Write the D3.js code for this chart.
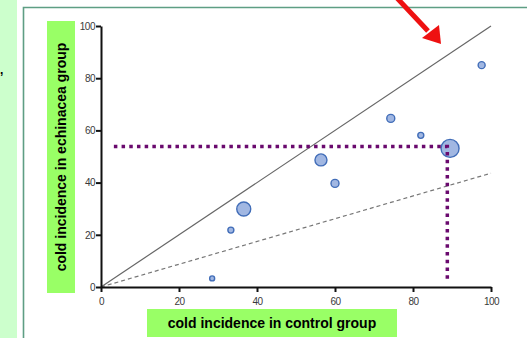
<!DOCTYPE html>
<html><head><meta charset="utf-8">
<script src="https://cdn.jsdelivr.net/npm/d3@7/dist/d3.min.js"></script>
<style>html,body{margin:0;padding:0;background:#fff;overflow:hidden}svg{display:block}</style>
</head><body>
<svg id="c" width="527" height="338"></svg>
<script>
const xTicks = [0, 20, 40, 60, 80, 100];
const yTicks = [0, 20, 40, 60, 80, 100];
const control   = [28.5, 33.3, 36.6, 56.4, 60.0, 74.3, 82.0, 89.5, 97.6];
const echinacea = [3.3, 21.8, 29.9, 48.7, 39.7, 64.6, 58.1, 53.1, 85.0];
const weight    = [2.5, 3, 7, 6, 4, 4, 3, 9, 3.5];
const identityLine = [[0, 0], [100, 100]];
const ratioLine = [[0, 0], [100, 43.6]];
const markerX = 88.8, markerY = 53.8;
const xLabel = "cold incidence in control group";
const yLabel = "cold incidence in echinacea group";

const svg = d3.select("#c");
const x = d3.scaleLinear().domain([0, 100]).range([101, 491]);
const y = d3.scaleLinear().domain([0, 100]).range([287, 26]);
const r = d3.scaleLinear().domain([0, 10]).range([0, 10]);

// side panel and frame
svg.append("rect").attr("x", 0).attr("y", 0).attr("width", 17).attr("height", 338).attr("fill", "#ccffcc");
svg.append("text").attr("x", 0).attr("y", 74).attr("font-family", "Liberation Sans, Arial").attr("font-size", 12).attr("font-weight", "bold").text(",");
svg.append("path").attr("d", "M23.5,338V7.5H527").attr("fill", "none").attr("stroke", "#5e9e84").attr("stroke-width", 1.6);

// label boxes
svg.append("rect").attr("x", 47).attr("y", 21).attr("width", 28).attr("height", 272).attr("fill", "#99ff66");
svg.append("text").attr("transform", "translate(66,157) rotate(-90)").attr("text-anchor", "middle")
  .attr("font-family", "Liberation Sans, Arial").attr("font-weight", "bold").attr("font-size", 14).attr("fill", "#000").text(yLabel);
svg.append("rect").attr("x", 147).attr("y", 309).attr("width", 250).attr("height", 28).attr("fill", "#99ff66");
svg.append("text").attr("x", 272).attr("y", 328).attr("text-anchor", "middle")
  .attr("font-family", "Liberation Sans, Arial").attr("font-weight", "bold").attr("font-size", 14).attr("fill", "#000").text(xLabel);

// reference lines
const line = d3.line().x(d => x(d[0])).y(d => y(d[1]));
svg.append("path").attr("d", line(identityLine)).attr("stroke", "#666").attr("stroke-width", 1.2).attr("fill", "none");
svg.append("path").attr("d", line(ratioLine)).attr("stroke", "#777").attr("stroke-width", 1.2).attr("stroke-dasharray", "4,3").attr("fill", "none");

// axes
function styleAxis(g) {
  g.select(".domain").attr("stroke", "#111").attr("stroke-width", 2);
  g.selectAll(".tick line").attr("stroke", "#111").attr("stroke-width", 2);
  g.selectAll(".tick text").attr("fill", "#3a3a3a").attr("font-size", 10).attr("font-family", "Liberation Sans, Arial").attr("letter-spacing", -0.5);
}
svg.append("g").attr("transform", "translate(101,0)")
  .call(d3.axisLeft(y).tickValues(yTicks).tickSize(5).tickSizeOuter(0).tickPadding(1)).call(styleAxis);
svg.append("g").attr("transform", "translate(0,287)")
  .call(d3.axisBottom(x).tickValues(xTicks).tickSize(5).tickSizeOuter(0).tickPadding(6)).call(styleAxis);

// points
svg.append("g").selectAll("circle").data(control).join("circle")
  .attr("cx", (d, i) => x(d)).attr("cy", (d, i) => y(echinacea[i])).attr("r", (d, i) => r(weight[i]))
  .attr("fill", "rgba(110,145,210,0.65)").attr("stroke", "#416db8").attr("stroke-width", 1.4);

// marker dotted lines
svg.append("path")
  .attr("d", `M${x(3.3)},${y(markerY)}H${x(markerX)}V${y(2.5)}`)
  .attr("fill", "none").attr("stroke", "#6a0a6e").attr("stroke-width", 3.5).attr("stroke-dasharray", "3.5,4.2");

// red arrow
svg.append("line").attr("x1", 397).attr("y1", -2).attr("x2", 428).attr("y2", 31)
  .attr("stroke", "#ee1111").attr("stroke-width", 5);
svg.append("polygon").attr("points", "422,38 439,25 441,44").attr("fill", "#ee1111");
</script>
</body></html>
